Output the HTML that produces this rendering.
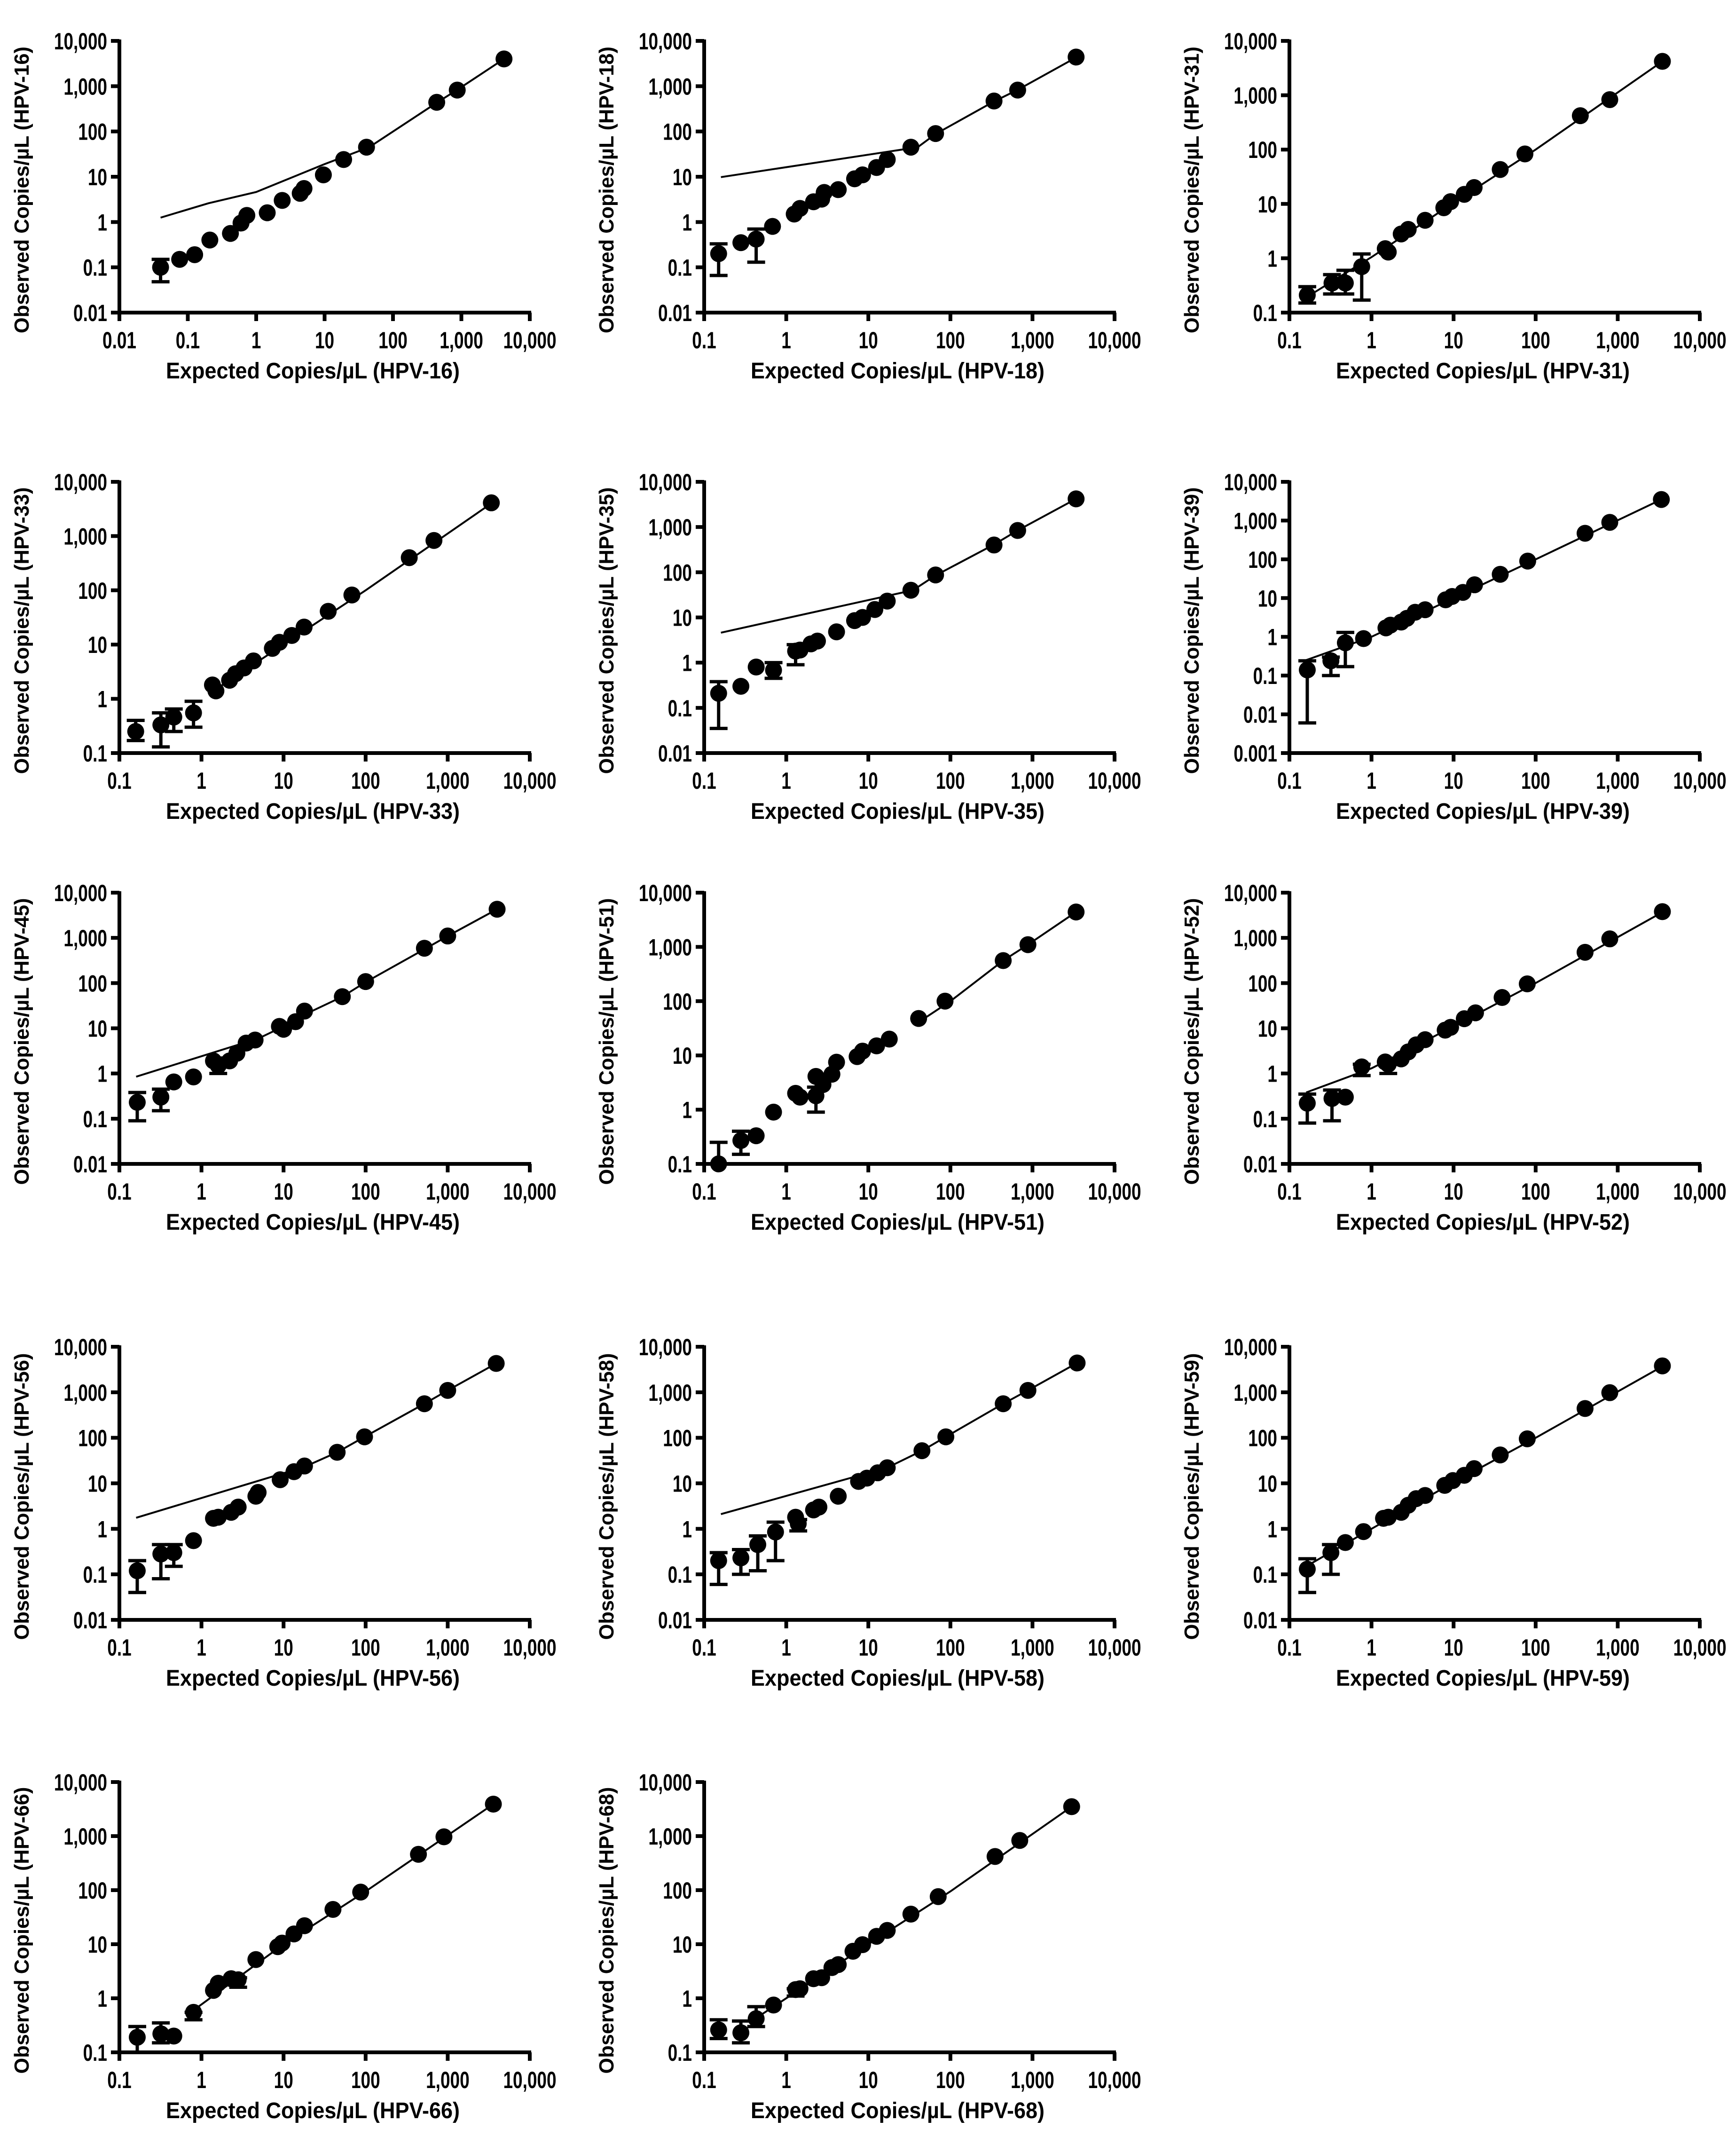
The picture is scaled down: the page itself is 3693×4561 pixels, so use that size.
<!DOCTYPE html>
<html><head><meta charset="utf-8">
<style>
html,body{margin:0;padding:0;background:#fff;}
svg{display:block;}
text{font-family:"Liberation Sans",sans-serif;font-weight:bold;fill:#000;}
</style></head>
<body>
<svg id="fig" width="3693" height="4561" viewBox="0 0 3693 4561" xmlns="http://www.w3.org/2000/svg"></svg>
<script>
// ---- data ----
const hpv16X=[0.04,0.076,0.126,0.21,0.42,0.6,0.73,1.45,2.4,4.4,5,9.6,19,41,436,870,4200];
const hpv16Y=[0.1,0.15,0.19,0.4,0.56,0.95,1.4,1.6,3.0,4.3,5.5,11,24,45,440,820,4000];
const hpv16ErrX=[0.04];const hpv16ErrLo=[0.048];const hpv16ErrHi=[0.15];
const hpv16LineX=[0.04,0.2,1,10,45,436,870,4200];const hpv16LineY=[1.25,2.6,4.6,19,45,430,830,4000];

const hpv18X=[0.15,0.28,0.43,0.68,1.25,1.47,2.15,2.7,2.9,4.3,6.8,8.5,12.6,17,33,66,340,660,3400];
const hpv18Y=[0.2,0.35,0.42,0.8,1.5,2,2.8,3.2,4.5,5.2,9,11,16,24,45,90,470,820,4400];
const hpv18ErrX=[0.15,0.43];const hpv18ErrLo=[0.066,0.13];const hpv18ErrHi=[0.33,0.7];
const hpv18LineX=[0.16,40,66,340,660,3400];const hpv18LineY=[9.8,45,88,460,830,4300];

const hpv31X=[0.165,0.33,0.48,0.76,1.47,1.6,2.3,2.8,4.5,7.6,9.2,13.5,17.8,37,74,350,800,3500];
const hpv31Y=[0.21,0.35,0.35,0.7,1.5,1.3,2.8,3.4,5,8.5,11,15,20,43,83,420,830,4200];
const hpv31ErrX=[0.165,0.33,0.48,0.76];const hpv31ErrLo=[0.15,0.22,0.22,0.17];const hpv31ErrHi=[0.3,0.5,0.6,1.2];
const hpv31LineX=[0.16,1,10,100,3500];const hpv31LineY=[0.19,1.05,10.5,100,4200];

const hpv33X=[0.158,0.32,0.46,0.8,1.36,1.5,2.2,2.6,3.3,4.3,7.3,8.9,12.6,17.8,35,68,340,680,3400];
const hpv33Y=[0.25,0.33,0.46,0.55,1.8,1.4,2.2,2.9,3.7,5,8.5,11,14.7,21,41,82,400,830,4100];
const hpv33ErrX=[0.158,0.32,0.46,0.8];const hpv33ErrLo=[0.17,0.13,0.25,0.3];const hpv33ErrHi=[0.4,0.55,0.65,0.9];
const hpv33LineX=[1.5,10,100,3400];const hpv33LineY=[1.5,10,100,4000];

const hpv35X=[0.15,0.28,0.43,0.7,1.3,1.47,2,2.4,4.1,6.8,8.5,12,17,33,66,340,660,3400];
const hpv35Y=[0.21,0.3,0.8,0.68,1.8,1.9,2.6,3,4.8,8.5,10,15,23,40,87,400,840,4200];
const hpv35ErrX=[0.15,0.7,1.3];const hpv35ErrLo=[0.035,0.45,0.9];const hpv35ErrHi=[0.38,1,2.5];
const hpv35LineX=[0.16,35,66,340,660,3400];const hpv35LineY=[4.6,40,85,410,840,4200];

const hpv39X=[0.165,0.32,0.48,0.8,1.5,1.7,2.3,2.7,3.4,4.5,8,9.6,13,18,37,80,400,800,3400];
const hpv39Y=[0.14,0.24,0.7,0.9,1.7,2,2.4,3,4.3,5,9,11,14,22,41,90,470,900,3500];
const hpv39ErrX=[0.165,0.32,0.48];const hpv39ErrLo=[0.006,0.1,0.17];const hpv39ErrHi=[0.24,0.3,1.3];
const hpv39LineX=[0.16,1,10,100,3400];const hpv39LineY=[0.25,1,10,100,3500];

const hpv45X=[0.165,0.32,0.46,0.8,1.4,1.6,2.2,2.7,3.5,4.5,8.9,10,14,18,52,100,520,1000,4000];
const hpv45Y=[0.23,0.3,0.65,0.84,1.9,1.5,1.9,2.8,4.7,5.5,11,9.5,14,24,50,108,590,1100,4300];
const hpv45ErrX=[0.165,0.32,1.6];const hpv45ErrLo=[0.09,0.15,1.0];const hpv45ErrHi=[0.38,0.45,2.2];
const hpv45LineX=[0.16,5,10,20,52,100,520,1000,4000];const hpv45LineY=[0.85,6,11,22,50,105,560,1100,4300];

const hpv51X=[0.15,0.28,0.43,0.7,1.3,1.47,2.3,2.3,2.8,3.6,4.1,7.3,8.5,12.6,18,41,86,440,880,3400];
const hpv51Y=[0.1,0.27,0.33,0.9,2,1.7,1.8,4.1,2.9,4.5,7.5,9.5,12,15,20,48,100,560,1100,4400];
const hpv51ErrX=[0.15,0.28,2.3];const hpv51ErrLo=[0.1,0.15,0.9];const hpv51ErrHi=[0.25,0.4,2.6];
const hpv51LineX=[48,100,440,880,3400];const hpv51LineY=[48,100,560,1100,4400];

const hpv52X=[0.165,0.33,0.48,0.76,1.47,1.6,2.3,2.8,3.5,4.5,7.9,9.2,13.5,18.5,39,79,400,800,3500];
const hpv52Y=[0.22,0.28,0.3,1.4,1.8,1.6,2.1,3,4.3,5.6,9.1,10.5,16.3,22,48,96,480,950,3800];
const hpv52ErrX=[0.165,0.33,0.76,1.6];const hpv52ErrLo=[0.08,0.09,0.9,1.0];const hpv52ErrHi=[0.35,0.43,1.6,1.8];
const hpv52LineX=[0.16,1,10,100,3500];const hpv52LineY=[0.38,1.3,11,100,3700];

const hpv56X=[0.165,0.32,0.46,0.8,1.4,1.6,2.3,2.8,4.6,4.9,9.1,13.4,18,45,97,520,1000,3900];
const hpv56Y=[0.12,0.28,0.3,0.55,1.7,1.8,2.3,3,5.2,6.3,12,18,24,48,105,560,1100,4300];
const hpv56ErrX=[0.165,0.32,0.46];const hpv56ErrLo=[0.04,0.08,0.15];const hpv56ErrHi=[0.2,0.45,0.45];
const hpv56LineX=[0.16,18,45,97,520,1000,3900];const hpv56LineY=[1.75,23,48,105,560,1100,4300];

const hpv58X=[0.15,0.28,0.45,0.74,1.3,1.4,2.15,2.5,4.3,7.6,9.6,13,17,45,88,440,880,3500];
const hpv58Y=[0.2,0.23,0.45,0.85,1.8,1.3,2.6,3,5.2,11,13,17,22,52,105,560,1100,4400];
const hpv58ErrX=[0.15,0.28,0.45,0.74,1.4];const hpv58ErrLo=[0.06,0.1,0.12,0.2,0.9];const hpv58ErrHi=[0.3,0.35,0.7,1.4,1.6];
const hpv58LineX=[0.16,17,45,88,440,880,3500];const hpv58LineY=[2.1,22,52,105,560,1100,4400];

const hpv59X=[0.165,0.32,0.48,0.8,1.4,1.6,2.3,2.8,3.5,4.5,7.8,9.8,13.5,17.8,37,79,400,800,3500];
const hpv59Y=[0.13,0.3,0.5,0.87,1.7,1.8,2.3,3.3,4.6,5.4,9,11.5,15,21,42,95,440,980,3800];
const hpv59ErrX=[0.165,0.32];const hpv59ErrLo=[0.04,0.1];const hpv59ErrHi=[0.22,0.45];
const hpv59LineX=[0.16,1,10,100,3500];const hpv59LineY=[0.15,1,10.5,100,3700];

const hpv66X=[0.165,0.32,0.46,0.8,1.4,1.6,2.3,2.8,4.6,8.5,9.6,13.4,18,40,87,440,900,3600];
const hpv66Y=[0.19,0.22,0.2,0.55,1.4,1.9,2.3,2.2,5.2,9,10.5,15.5,22,44,92,460,970,3900];
const hpv66ErrX=[0.165,0.32,0.8,2.8];const hpv66ErrLo=[0.1,0.15,0.4,1.6];const hpv66ErrHi=[0.3,0.35,0.55,2.4];
const hpv66LineX=[0.8,10,100,3600];const hpv66LineY=[0.6,10,95,3900];

const hpv68X=[0.15,0.28,0.43,0.7,1.3,1.47,2.15,2.7,3.6,4.3,6.5,8.5,12.6,17,33,71,350,700,3000];
const hpv68Y=[0.26,0.23,0.42,0.75,1.45,1.5,2.3,2.4,3.7,4.2,7.4,9.8,14,18,36,76,420,830,3500];
const hpv68ErrX=[0.15,0.28,0.43,1.3];const hpv68ErrLo=[0.18,0.15,0.3,1.1];const hpv68ErrHi=[0.4,0.38,0.7,1.5];
const hpv68LineX=[0.5,10,100,3000];const hpv68LineY=[0.5,10,95,3500];

// ---- layout ----
const colLeft=[254,1498,2743];
const plotW=873;
const rowTop=[87,1025,1899,2865,3791];
const rowBot=[665,1602,2476,3446,4366];
const NS="http://www.w3.org/2000/svg";
const svg=document.getElementById('fig');

const panels=[
 {n:'16',c:0,r:0,xe:-2,ye:-2,X:hpv16X,Y:hpv16Y,EX:hpv16ErrX,EL:hpv16ErrLo,EH:hpv16ErrHi,LX:hpv16LineX,LY:hpv16LineY},
 {n:'18',c:1,r:0,xe:-1,ye:-2,X:hpv18X,Y:hpv18Y,EX:hpv18ErrX,EL:hpv18ErrLo,EH:hpv18ErrHi,LX:hpv18LineX,LY:hpv18LineY},
 {n:'31',c:2,r:0,xe:-1,ye:-1,X:hpv31X,Y:hpv31Y,EX:hpv31ErrX,EL:hpv31ErrLo,EH:hpv31ErrHi,LX:hpv31LineX,LY:hpv31LineY},
 {n:'33',c:0,r:1,xe:-1,ye:-1,X:hpv33X,Y:hpv33Y,EX:hpv33ErrX,EL:hpv33ErrLo,EH:hpv33ErrHi,LX:hpv33LineX,LY:hpv33LineY},
 {n:'35',c:1,r:1,xe:-1,ye:-2,X:hpv35X,Y:hpv35Y,EX:hpv35ErrX,EL:hpv35ErrLo,EH:hpv35ErrHi,LX:hpv35LineX,LY:hpv35LineY},
 {n:'39',c:2,r:1,xe:-1,ye:-3,X:hpv39X,Y:hpv39Y,EX:hpv39ErrX,EL:hpv39ErrLo,EH:hpv39ErrHi,LX:hpv39LineX,LY:hpv39LineY},
 {n:'45',c:0,r:2,xe:-1,ye:-2,X:hpv45X,Y:hpv45Y,EX:hpv45ErrX,EL:hpv45ErrLo,EH:hpv45ErrHi,LX:hpv45LineX,LY:hpv45LineY},
 {n:'51',c:1,r:2,xe:-1,ye:-1,X:hpv51X,Y:hpv51Y,EX:hpv51ErrX,EL:hpv51ErrLo,EH:hpv51ErrHi,LX:hpv51LineX,LY:hpv51LineY},
 {n:'52',c:2,r:2,xe:-1,ye:-2,X:hpv52X,Y:hpv52Y,EX:hpv52ErrX,EL:hpv52ErrLo,EH:hpv52ErrHi,LX:hpv52LineX,LY:hpv52LineY},
 {n:'56',c:0,r:3,xe:-1,ye:-2,X:hpv56X,Y:hpv56Y,EX:hpv56ErrX,EL:hpv56ErrLo,EH:hpv56ErrHi,LX:hpv56LineX,LY:hpv56LineY},
 {n:'58',c:1,r:3,xe:-1,ye:-2,X:hpv58X,Y:hpv58Y,EX:hpv58ErrX,EL:hpv58ErrLo,EH:hpv58ErrHi,LX:hpv58LineX,LY:hpv58LineY},
 {n:'59',c:2,r:3,xe:-1,ye:-2,X:hpv59X,Y:hpv59Y,EX:hpv59ErrX,EL:hpv59ErrLo,EH:hpv59ErrHi,LX:hpv59LineX,LY:hpv59LineY},
 {n:'66',c:0,r:4,xe:-1,ye:-1,X:hpv66X,Y:hpv66Y,EX:hpv66ErrX,EL:hpv66ErrLo,EH:hpv66ErrHi,LX:hpv66LineX,LY:hpv66LineY},
 {n:'68',c:1,r:4,xe:-1,ye:-1,X:hpv68X,Y:hpv68Y,EX:hpv68ErrX,EL:hpv68ErrLo,EH:hpv68ErrHi,LX:hpv68LineX,LY:hpv68LineY}
];

function mk(tag,attrs,parent){const e=document.createElementNS(NS,tag);for(const k in attrs)e.setAttribute(k,attrs[k]);parent.appendChild(e);return e;}
function fmt(e){if(e<0)return (Math.pow(10,e)).toFixed(-e);return Math.pow(10,e).toLocaleString('en-US');}
const TFS=50;
function tlen(s){let w=0;for(const ch of s)w+=(ch===','||ch==='.')?0.278:0.556;return (w*TFS*0.74).toFixed(1);}

panels.forEach(p=>{
  const L=colLeft[p.c],R=L+plotW,T=rowTop[p.r],B=rowBot[p.r];
  const xs=v=>L+(Math.log10(v)-p.xe)/(4-p.xe)*(R-L);
  const ys=v=>B-(Math.log10(v)-p.ye)/(4-p.ye)*(B-T);
  const g=mk('g',{},svg);
  
  
  let d='';p.LX.forEach((x,i)=>{d+=(i?'L':'M')+xs(x).toFixed(1)+' '+ys(p.LY[i]).toFixed(1);});
  const ln=mk('path',{d:d,fill:'none',stroke:'#000','stroke-width':4},g);
  
  
  p.EX.forEach((x,i)=>{
    const cx=xs(x),y1=ys(p.EL[i]),y2=ys(p.EH[i]);
    const eb=mk('path',{d:`M${cx} ${y1}L${cx} ${y2}M${cx-19} ${y1}L${cx+19} ${y1}M${cx-19} ${y2}L${cx+19} ${y2}`,stroke:'#000','stroke-width':7,fill:'none'},g);
    
    
  });
  p.X.forEach((x,i)=>{
    const c=mk('circle',{cx:xs(x),cy:ys(p.Y[i]),r:18,fill:'#000'},g);
    
    
  });
  const ax=mk('path',{d:`M${L} ${T-3}L${L} ${B}L${R+3} ${B}`,stroke:'#000','stroke-width':8,fill:'none'},g);
  
  
  for(let e=p.ye;e<=4;e++){
    const y=ys(Math.pow(10,e));
    mk('line',{x1:L-18,x2:L,y1:y,y2:y,stroke:'#000','stroke-width':8},g);
    const s=fmt(e);
    const t=mk('text',{x:L-26,y:y+18,'text-anchor':'end','font-size':TFS,textLength:tlen(s),lengthAdjust:'spacingAndGlyphs'},g);
    
    
    t.textContent=s;
  }
  for(let e=p.xe;e<=4;e++){
    const x=xs(Math.pow(10,e));
    mk('line',{x1:x,x2:x,y1:B,y2:B+18,stroke:'#000','stroke-width':8},g);
    const s=fmt(e);
    const t=mk('text',{x:x,y:B+76,'text-anchor':'middle','font-size':TFS,textLength:tlen(s),lengthAdjust:'spacingAndGlyphs'},g);
    
    
    t.textContent=s;
  }
  const xt=mk('text',{x:(L+R)/2-25,y:B+140,'text-anchor':'middle','font-size':48,textLength:625,lengthAdjust:'spacingAndGlyphs'},g);
  
  
  xt.textContent='Expected Copies/µL (HPV-'+p.n+')';
  const cy=(T+B)/2+28, tx=L-193;
  const yt=mk('text',{x:tx,y:cy,'text-anchor':'middle','font-size':44,textLength:610,lengthAdjust:'spacingAndGlyphs',transform:`rotate(-90 ${tx} ${cy})`},g);
  
  
  yt.textContent='Observed Copies/µL (HPV-'+p.n+')';
});
</script>
</body></html>
